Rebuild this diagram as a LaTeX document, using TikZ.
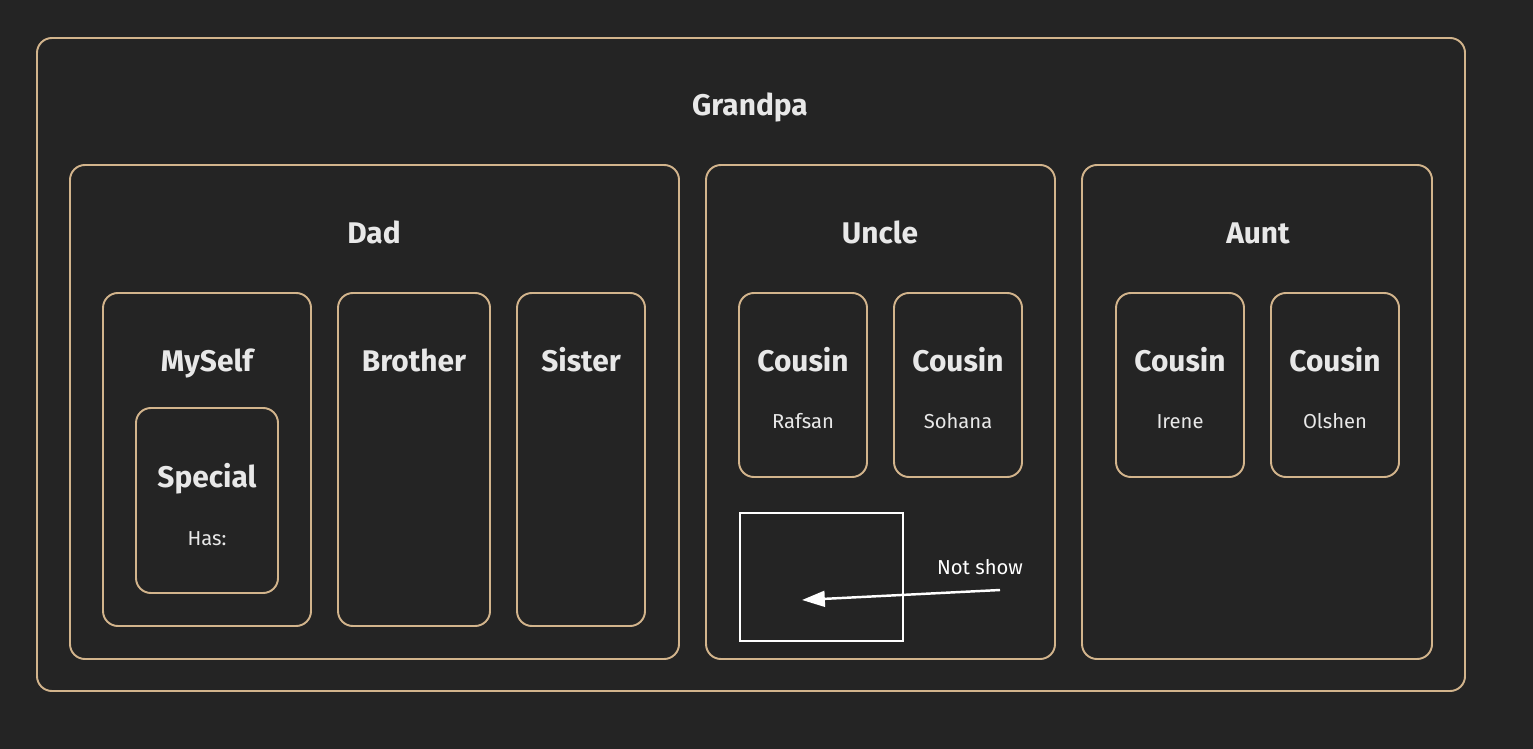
\documentclass[tikz,border=0pt]{standalone}
\usepackage{fontspec}
\setmainfont{Fira Sans}
\usepackage{tikz}
\usetikzlibrary{calc,arrows.meta}

\definecolor{bgdark}{HTML}{242424}
\definecolor{tanline}{HTML}{D2B48C}
\definecolor{labeltext}{HTML}{E8E8E8}

\tikzset{
    card/.style={draw=tanline, line width=1.1pt, rounded corners=8.5pt, inner sep=0pt},
    ghost/.style={draw=white, line width=1.6pt, inner sep=0pt},
    title/.style={text=labeltext, font=\bfseries\fontsize{17}{19}\selectfont, inner sep=0pt,
        text height=12pt, text depth=0pt, anchor=base, yshift=-6.5pt},
    small/.style={text=labeltext, font=\fontsize{11.5}{13}\selectfont, inner sep=0pt,
        text height=8pt, text depth=0pt, anchor=base, yshift=-4.5pt},
    note/.style={small, text=white},
}

% box from left, top, right, bottom (in px)
\newcommand\cardbox[6][card]{%
    \node[#1, minimum width={(#5-#3)*0.02cm}, minimum height={(#6-#4)*0.02cm}]
        (#2) at ({(#3+#5)/2},{(#4+#6)/2}) {};}

\begin{document}
\begin{tikzpicture}[x=0.02cm, y=-0.02cm]
    % 背景
    \fill[bgdark] (0,0) rectangle (1533,749);

    % 最外层
    \cardbox{grandpa}{37}{38}{1465}{691}
    \node[title] (grandpaT) at (750,104) {Grandpa};

    % Dad 一家
    \cardbox{dad}{70}{165}{679}{659}
    \node[title] (dadT) at (374,232) {Dad};
    \cardbox{myself}{103}{293}{311}{626}
    \node[title] (myselfT) at (207,360) {MySelf};
    \cardbox{special}{136}{408}{278}{593}
    \node[title] (specialT) at (207,476) {Special};
    \node[small] (has) at (207,538) {Has:};
    \cardbox{brother}{338}{293}{490}{626}
    \node[title] (brotherT) at (414,360) {Brother};
    \cardbox{sister}{517}{293}{645}{626}
    \node[title] (sisterT) at (581,360) {Sister};

    % Uncle 一家
    \cardbox{uncle}{706}{165}{1055}{659}
    \node[title] (uncleT) at (880,232) {Uncle};
    \cardbox{rafsan}{739}{293}{867}{477}
    \node[title] (rafsanT) at (803,360) {Cousin};
    \node[small] (rafsanN) at (803,421) {Rafsan};
    \cardbox{sohana}{894}{293}{1022}{477}
    \node[title] (sohanaT) at (958,360) {Cousin};
    \node[small] (sohanaN) at (958,421) {Sohana};

    % 不显示的框
    \cardbox[ghost]{hidden}{740}{513}{903}{641}
    \node[note] (notshow) at (980,567) {Not show};
    \coordinate (tail) at (1000,590);
    \coordinate (tip) at (802,600);
    \draw[white, line width=1.4pt, -{Triangle[length=13pt,width=9pt]}] (tail) -- (tip);

    % Aunt 一家
    \cardbox{aunt}{1082}{165}{1432}{659}
    \node[title] (auntT) at (1258,232) {Aunt};
    \cardbox{irene}{1116}{293}{1244}{477}
    \node[title] (ireneT) at (1180,360) {Cousin};
    \node[small] (ireneN) at (1180,421) {Irene};
    \cardbox{olshen}{1271}{293}{1399}{477}
    \node[title] (olshenT) at (1335,360) {Cousin};
    \node[small] (olshenN) at (1335,421) {Olshen};
\end{tikzpicture}
\end{document}
